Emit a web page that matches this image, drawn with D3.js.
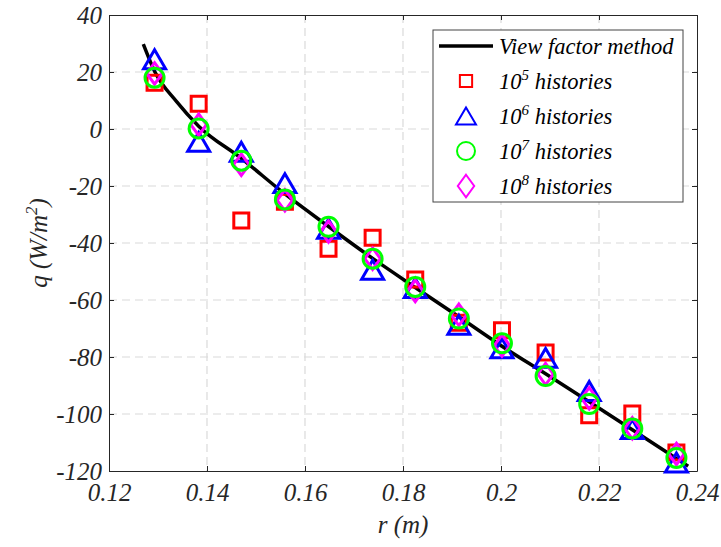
<!DOCTYPE html>
<html>
<head>
<meta charset="utf-8">
<script src="https://cdn.jsdelivr.net/npm/d3@7"></script>
</head>
<body style="margin:0; background:#fff">
<div id="chart"></div>
<script>
// r (m) of the Monte Carlo points
const radius = [0.1293, 0.1383, 0.1470, 0.1559, 0.1648, 0.1738, 0.1825, 0.1914, 0.2002, 0.2091, 0.2180, 0.2268, 0.2358];
// q (W/m2) per number of histories
const q1e5 = [16.2, 8.9, -32.1, -25.5, -42.0, -38.2, -52.8, -68.0, -70.6, -78.4, -100.4, -99.8, -113.5];
const q1e6 = [24.5, -4.5, -8.0, -19.0, -35.0, -49.4, -55.8, -68.7, -76.9, -80.3, -91.9, -105.3, -117.0];
const q1e7 = [18.0, 0.2, -11.1, -24.7, -34.3, -45.5, -55.4, -66.5, -75.2, -86.7, -96.5, -105.1, -115.4];
const q1e8 = [19.5, 1.5, -12.5, -25.0, -36.0, -45.5, -56.8, -65.2, -76.0, -86.0, -94.5, -105.0, -114.0];
// view factor method curve
const lineR = [0.1270, 0.1293, 0.1338, 0.1383, 0.1470, 0.1559, 0.1648, 0.1738, 0.1825, 0.1914, 0.2002, 0.2091, 0.2180, 0.2268, 0.2358, 0.2382];
const lineQ = [29.8, 20.3, 9.6, 1.0, -10.3, -22.8, -34.2, -45.4, -55.6, -65.9, -76.2, -85.9, -95.7, -105.5, -115.6, -118.3];

const xTicks = [0.12, 0.14, 0.16, 0.18, 0.2, 0.22, 0.24];
const yTicks = [40, 20, 0, -20, -40, -60, -80, -100, -120];
const seriesNames = ["5", "6", "7", "8"];

const FONT = "Liberation Serif";
const W = 721, H = 547;
const margin = {top: 15, right: 24, bottom: 76, left: 109};
const width = W - margin.left - margin.right,
      height = H - margin.top - margin.bottom;

const svg = d3.select("#chart").append("svg")
  .attr("width", W).attr("height", H);

const g = svg.append("g")
  .attr("transform", `translate(${margin.left}, ${margin.top})`);

const x = d3.scaleLinear().domain([0.12, 0.24]).range([0, width]);
const y = d3.scaleLinear().domain([-120, 40]).range([height, 0]);

// grid
g.append("g").selectAll("line").data(xTicks.slice(1, -1)).join("line")
  .attr("x1", d => x(d)).attr("x2", d => x(d))
  .attr("y1", 0).attr("y2", height)
  .attr("stroke", "#dadada").attr("stroke-width", 1.2).attr("stroke-dasharray", "8,5");
g.append("g").selectAll("line").data(yTicks.slice(1, -1)).join("line")
  .attr("y1", d => y(d)).attr("y2", d => y(d))
  .attr("x1", 0).attr("x2", width)
  .attr("stroke", "#dadada").attr("stroke-width", 1.2).attr("stroke-dasharray", "8,5");

// axes (ticks pointing inside, on all four sides)
const fmtX = d => String(+d.toFixed(2));
const fmtY = d => String(d);

g.append("g").attr("transform", `translate(0, ${height})`)
  .call(d3.axisBottom(x).tickValues(xTicks).tickFormat(fmtX).tickSizeInner(-5).tickSizeOuter(0).tickPadding(12));
g.append("g")
  .call(d3.axisLeft(y).tickValues(yTicks).tickFormat(fmtY).tickSizeInner(-5).tickSizeOuter(0).tickPadding(7));
g.append("g")
  .call(d3.axisTop(x).tickValues(xTicks).tickFormat("").tickSizeInner(-5).tickSizeOuter(0));
g.append("g").attr("transform", `translate(${width}, 0)`)
  .call(d3.axisRight(y).tickValues(yTicks).tickFormat("").tickSizeInner(-5).tickSizeOuter(0));

g.selectAll(".domain").attr("stroke", "#262626").attr("stroke-width", 1);
g.selectAll(".tick line").attr("stroke", "#262626");
g.selectAll(".tick text")
  .attr("font-family", FONT).attr("font-style", "italic").attr("font-size", 25).attr("fill", "#262626");

// axis titles
svg.append("text")
  .attr("x", margin.left + width / 2).attr("y", 533)
  .attr("text-anchor", "middle")
  .attr("font-family", FONT).attr("font-style", "italic").attr("font-size", 25).attr("fill", "#262626")
  .text("r (m)");

const yl = svg.append("text")
  .attr("transform", `translate(47, ${margin.top + height / 2}) rotate(-90)`)
  .attr("text-anchor", "middle")
  .attr("font-family", FONT).attr("font-style", "italic").attr("font-size", 25).attr("fill", "#262626");
yl.append("tspan").text("q (W/m");
yl.append("tspan").attr("dy", -10).attr("font-size", 17).text("2");
yl.append("tspan").attr("dy", 10).text(")");

// curve
const lineData = lineR.map((r, i) => ({r: r, q: lineQ[i]}));
g.append("path").datum(lineData)
  .attr("fill", "none").attr("stroke", "#000").attr("stroke-width", 3.5)
  .attr("d", d3.line().x(d => x(d.r)).y(d => y(d.q)).curve(d3.curveMonotoneX));

// marker shapes
const triangleBox = {
  draw(ctx, size) {
    const w = Math.sqrt(size), h = w * 0.86;
    ctx.moveTo(0, -h / 2); ctx.lineTo(w / 2, h / 2); ctx.lineTo(-w / 2, h / 2); ctx.closePath();
  }
};
const diamondTall = {
  draw(ctx, size) {
    const s = Math.sqrt(size);
    ctx.moveTo(0, -s * 0.55); ctx.lineTo(s * 0.4, 0); ctx.lineTo(0, s * 0.55); ctx.lineTo(-s * 0.4, 0); ctx.closePath();
  }
};

const series = [
  {key: "5", values: q1e5, type: d3.symbolSquare, size: 225, color: "#ff0000", lsize: 150},
  {key: "6", values: q1e6, type: triangleBox, size: 484, color: "#0000ff", lsize: 400},
  {key: "8", values: q1e8, type: diamondTall, size: 380, color: "#ff00ff", lsize: 420},
  {key: "7", values: q1e7, type: d3.symbolCircle, size: Math.PI * 9.5 * 9.5, color: "#00ff00", lsize: Math.PI * 9 * 9}
];

series.forEach(function(s) {
  g.append("g").selectAll("path")
    .data(s.values.map((v, i) => ({r: radius[i], q: v})))
    .join("path")
    .attr("transform", d => `translate(${x(d.r)}, ${y(d.q)})`)
    .attr("d", d3.symbol().type(s.type).size(s.size))
    .attr("fill", "none").attr("stroke", s.color).attr("stroke-width", 3);
});

// legend
const leg = svg.append("g").attr("transform", "translate(433, 30)");
leg.append("rect").attr("width", 250).attr("height", 172)
  .attr("fill", "#fff").attr("stroke", "#444").attr("stroke-width", 1);

leg.append("line").attr("x1", 6).attr("x2", 60).attr("y1", 16).attr("y2", 16)
  .attr("stroke", "#000").attr("stroke-width", 3.5);
leg.append("text").attr("x", 66).attr("y", 24)
  .attr("font-family", FONT).attr("font-style", "italic").attr("font-size", 22.5).attr("fill", "#000")
  .text("View factor method");

const legendRows = seriesNames.map(k => series.find(s => s.key === k));
legendRows.forEach(function(s, i) {
  const cy = 51 + i * 35;
  leg.append("path")
    .attr("transform", `translate(33, ${cy})`)
    .attr("d", d3.symbol().type(s.type).size(s.lsize))
    .attr("fill", "none").attr("stroke", s.color).attr("stroke-width", 2);
  const t = leg.append("text").attr("x", 66).attr("y", cy + 8)
    .attr("font-family", FONT).attr("font-style", "italic").attr("font-size", 22.5).attr("fill", "#000");
  t.append("tspan").text("10");
  t.append("tspan").attr("dy", -9).attr("font-size", 15).text(s.key);
  t.append("tspan").attr("dy", 9).text(" histories");
});
</script>
</body>
</html>
